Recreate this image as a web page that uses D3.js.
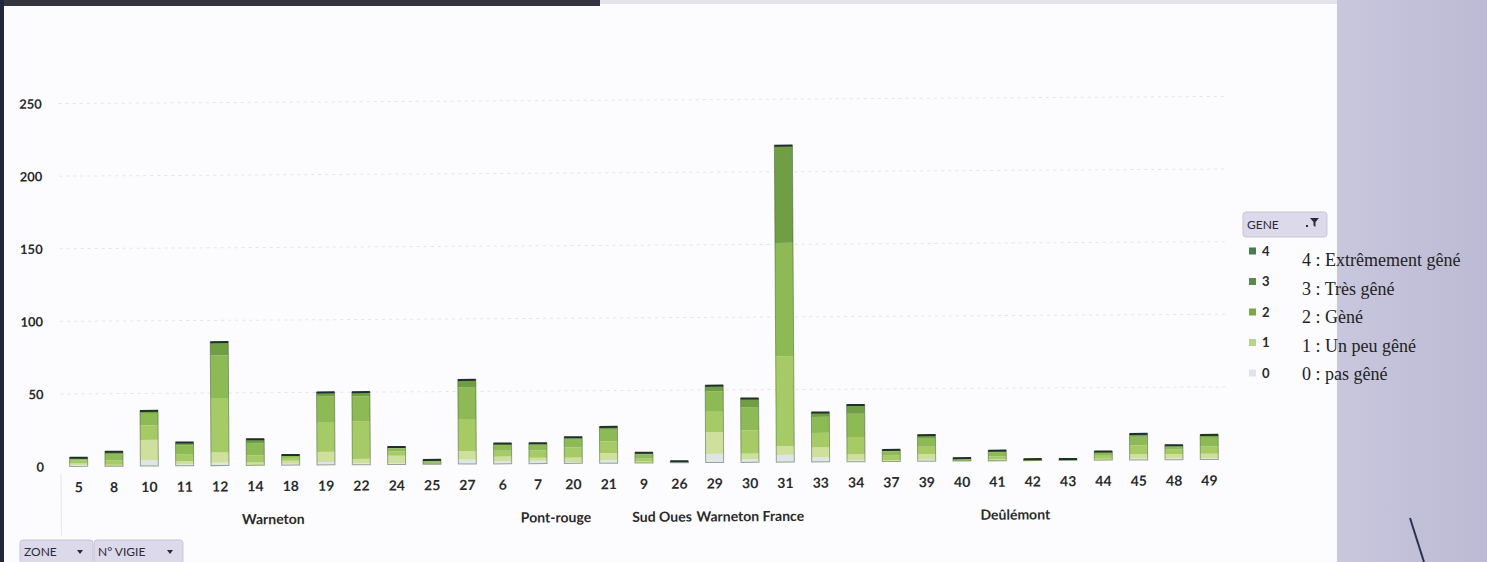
<!DOCTYPE html>
<html>
<head>
<meta charset="utf-8">
<script src="https://cdn.jsdelivr.net/npm/d3@7/dist/d3.min.js"></script>
<style>
  html, body { margin: 0; padding: 0; background: #fcfcfe; }
  svg { display: block; }
</style>
</head>
<body>
<svg id="chart" width="1487" height="562"></svg>
<script>
// N° VIGIE categories, grouped by ZONE
const vigies = ["5","8","10","11","12","14","18","19","22","24","25","27",
                "6","7","20","21",
                "9","26",
                "29","30","31",
                "33","34","37","39","40","41","42","43","44","45","48","49"];
const zones = ["Warneton","Warneton","Warneton","Warneton","Warneton","Warneton","Warneton","Warneton","Warneton","Warneton","Warneton","Warneton",
               "Pont-rouge","Pont-rouge","Pont-rouge","Pont-rouge",
               "Sud Oues","Sud Oues",
               "Warneton France","Warneton France","Warneton France",
               "Deûlémont","Deûlémont","Deûlémont","Deûlémont","Deûlémont","Deûlémont","Deûlémont","Deûlémont","Deûlémont","Deûlémont","Deûlémont","Deûlémont"];

// counts per GENE level, one value per vigie
const gene0 = [1,0,4,1,2,0,1,2,1,1,0,3, 2,2,1,2, 0,1, 6,2,5, 3,1,0,1,0,0,0,0,0,1,1,1];
const gene1 = [1,1,14,2,7,2,2,7,3,5,0,6, 3,2,3,5, 1,0, 15,4,6, 7,4,1,4,0,1,0,1,1,3,3,3];
const gene2 = [2,3,10,5,37,5,2,20,26,3,1,22, 4,5,7,8, 2,0, 14,16,62, 10,12,3,5,1,2,0,0,2,6,3,5];
const gene3 = [1,4,8,6,30,8,2,18,17,2,1,22, 4,4,6,8, 3,0, 14,16,78, 11,16,3,6,0,3,1,0,2,6,2,6];
const gene4 = [1,2,2,2,9,3,0,3,3,1,1,5, 1,1,1,2, 1,0, 4,6,67, 3,6,1,2,1,1,0,0,1,2,1,2];

const geneKeys = ["0","1","2","3","4"];
const geneSeries = [gene0, gene1, gene2, gene3, gene4];
const geneColors = ["#dde5e6", "#cfe09c", "#a6cb66", "#8dba55", "#6f9e44"];
const legendSwatch = ["#dfe4ea", "#b9d28e", "#79a64a", "#5b8a4e", "#4d7a56"];
const yTicks = [0, 50, 100, 150, 200, 250];
const legendNotes = ["4 : Extrêmement gêné", "3 : Très gêné", "2 : Gèné", "1 : Un peu gêné", "0 : pas gêné"];

const svg = d3.select("#chart");
const W = 1487, H = 562;
const sans = "Lato, 'Open Sans', sans-serif";

// sheet background, paper edge on the right and dark frame edges
svg.append("rect").attr("width", W).attr("height", H).attr("fill", "#fcfcfe");
const edge = svg.append("defs").append("linearGradient").attr("id", "edge")
  .attr("x1", 0).attr("x2", 1).attr("y1", 0).attr("y2", 0);
edge.append("stop").attr("offset", 0).attr("stop-color", "#c9c7de");
edge.append("stop").attr("offset", 1).attr("stop-color", "#bcbad4");
svg.append("rect").attr("x", 1337).attr("y", 0).attr("width", W - 1337).attr("height", H).attr("fill", "url(#edge)");
svg.append("rect").attr("x", 0).attr("y", 0).attr("width", 600).attr("height", 6).attr("fill", "#34343f");
svg.append("rect").attr("x", 600).attr("y", 0).attr("width", 737).attr("height", 4).attr("fill", "#e4e3ec");
svg.append("rect").attr("x", 0).attr("y", 0).attr("width", 4).attr("height", H).attr("fill", "#23263a");
svg.append("path").attr("d", "M1410,518 L1424,562").attr("stroke", "#2b3150").attr("stroke-width", 2).attr("fill", "none");

const g = svg.append("g").attr("transform", "rotate(-0.35, 640, 300)");

const x = d3.scaleBand().domain(d3.range(vigies.length)).range([60, 1226]).paddingInner(0.49).paddingOuter(0.245);
const y = d3.scaleLinear().domain([0, 250]).range([463, 100]);

// faint gridlines
g.append("g").selectAll("line").data(yTicks.filter(d => d > 0)).join("line")
  .attr("x1", 60).attr("x2", 1226)
  .attr("y1", d => y(d)).attr("y2", d => y(d))
  .attr("stroke", "#e4e4ec").attr("stroke-width", 1).attr("stroke-dasharray", "3,4");

// y axis labels
const yAxis = d3.axisLeft(y).tickValues(yTicks).tickSize(0).tickPadding(0);
const ya = g.append("g").attr("transform", "translate(43,0)").call(yAxis);
ya.select(".domain").remove();
ya.selectAll("text").attr("font-family", sans).attr("font-size", 13).attr("font-weight", 700)
  .attr("fill", "#2a2a2a").attr("dy", "0.35em");

// stacked bars
const rows = vigies.map((v, i) => {
  const r = { i };
  geneKeys.forEach((k, j) => r[k] = geneSeries[j][i]);
  return r;
});
const stacked = d3.stack().keys(geneKeys)(rows);

g.append("g").selectAll("g").data(stacked).join("g")
  .attr("fill", (d, j) => geneColors[j])
  .selectAll("rect").data(d => d).join("rect")
  .attr("x", d => x(d.data.i))
  .attr("width", x.bandwidth())
  .attr("y", d => y(d[1]))
  .attr("height", d => y(d[0]) - y(d[1]));

// outline of each stack
const total = d => geneKeys.reduce((s, k) => s + d[k], 0);
g.append("g").selectAll("rect").data(rows).join("rect")
  .attr("x", d => x(d.i))
  .attr("width", x.bandwidth())
  .attr("y", d => y(total(d)))
  .attr("height", d => y(0) - y(total(d)))
  .attr("fill", "none").attr("stroke", "#3e5a34").attr("stroke-opacity", 0.5).attr("stroke-width", 1);
g.append("g").selectAll("line").data(rows.filter(d => total(d) > 0)).join("line")
  .attr("x1", d => x(d.i)).attr("x2", d => x(d.i) + x.bandwidth())
  .attr("y1", d => y(total(d))).attr("y2", d => y(total(d)))
  .attr("stroke", "#1f2f2a").attr("stroke-width", 2);

// category labels
g.append("g").selectAll("text").data(vigies).join("text")
  .attr("x", (d, i) => x(i) + x.bandwidth() / 2)
  .attr("y", 484)
  .attr("dy", "0.35em")
  .attr("text-anchor", "middle")
  .attr("font-family", sans).attr("font-size", 14).attr("font-weight", 700).attr("fill", "#2a2a2a")
  .text(d => d);

// zone group labels
const groups = [];
zones.forEach((z, i) => {
  const last = groups[groups.length - 1];
  if (last && last.name === z) last.end = i; else groups.push({ name: z, start: i, end: i });
});
g.append("g").selectAll("text").data(groups).join("text")
  .attr("x", d => (x(d.start) + x(d.end) + x.bandwidth()) / 2)
  .attr("y", 517)
  .attr("dy", "0.35em")
  .attr("text-anchor", "middle")
  .attr("font-family", sans).attr("font-size", 14).attr("font-weight", 700).attr("fill", "#2a2a2a")
  .text(d => d.name);

// left edge of the category axis
g.append("line").attr("x1", 60).attr("x2", 60).attr("y1", 470).attr("y2", 532)
  .attr("stroke", "#e4e4ec");

// field buttons
function fieldButton(parent, bx, by, bw, bh, label, icon) {
  const b = parent.append("g");
  b.append("rect").attr("x", bx).attr("y", by).attr("width", bw).attr("height", bh).attr("rx", 3)
    .attr("fill", "#dcd9ea").attr("stroke", "#c9c5dc");
  b.append("text").attr("x", bx + 4).attr("y", by + bh / 2).attr("dy", "0.35em")
    .attr("font-family", sans).attr("font-size", 12).attr("fill", "#2a2a3a")
    .text(label);
  if (icon === "drop") {
    b.append("path").attr("d", `M${bx + bw - 16},${by + bh / 2 - 2} l6,0 l-3,4 z`).attr("fill", "#2a2a3a");
  } else {
    b.append("path").attr("d", `M${bx + bw - 17},${by + 6} l9,0 l-3.5,4 l0,5 l-2,-1.5 l0,-3.5 z`).attr("fill", "#2a2a3a");
    b.append("rect").attr("x", bx + bw - 21).attr("y", by + 13).attr("width", 2).attr("height", 2).attr("fill", "#2a2a3a");
  }
}
fieldButton(svg, 20, 540, 73, 24, "ZONE", "drop");
fieldButton(svg, 94, 540, 89, 24, "N° VIGIE", "drop");
fieldButton(svg, 1243, 212, 84, 25, "GENE", "filter");

// legend (top level first)
const legend = svg.append("g");
const legendKeys = geneKeys.slice().reverse();
legendKeys.forEach((k, i) => {
  const ly = 251 + i * 30.5;
  legend.append("rect").attr("x", 1249).attr("y", ly - 3.5).attr("width", 7).attr("height", 7)
    .attr("fill", legendSwatch[geneKeys.indexOf(k)]);
  legend.append("text").attr("x", 1262).attr("y", ly).attr("dy", "0.35em")
    .attr("font-family", sans).attr("font-size", 13).attr("font-weight", 700).attr("fill", "#2a2a2a")
    .text(k);
});

// level descriptions
legend.selectAll("text.note").data(legendNotes).join("text").attr("class", "note")
  .attr("x", 1302).attr("y", (d, i) => 260 + i * 28.5).attr("dy", "0.35em")
  .attr("font-family", "'Liberation Serif', 'Times New Roman', serif").attr("font-size", 18).attr("fill", "#222")
  .text(d => d);
</script>
</body>
</html>
